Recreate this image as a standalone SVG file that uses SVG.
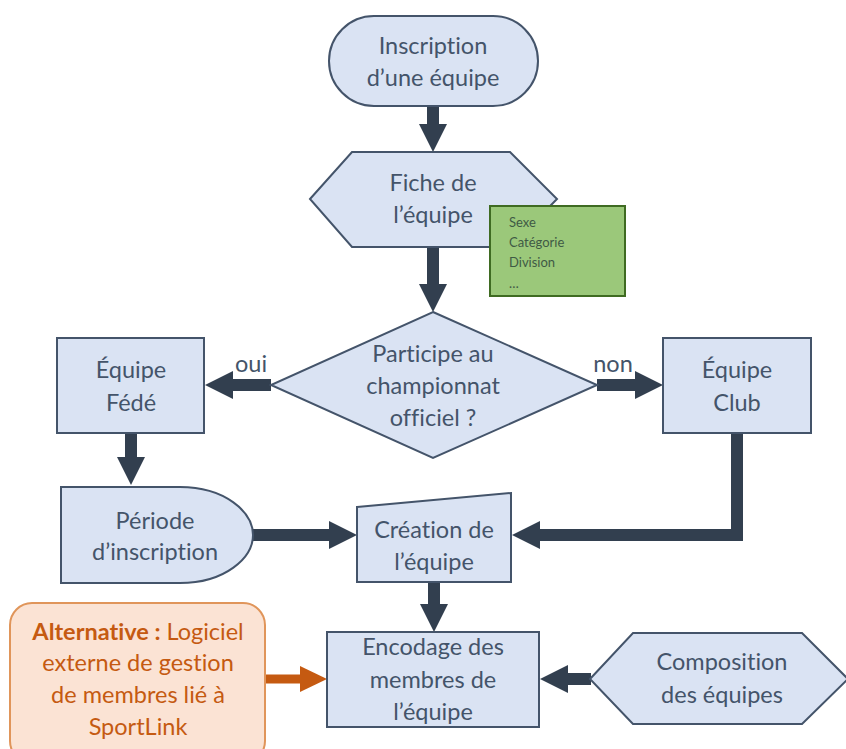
<svg xmlns="http://www.w3.org/2000/svg" width="846" height="749" viewBox="0 0 846 749">
<style>
text{font-variant-ligatures:none;font-feature-settings:"liga" 0}
.n{fill:#dae3f3;stroke:#44546a;stroke-width:2}
.t{font-family:Lato,"Liberation Sans",sans-serif;font-size:23.5px;fill:#44546a;text-anchor:middle}
.c{fill:none;stroke:#323f4f;stroke-width:12}
.co{fill:none;stroke:#c55a11;stroke-width:9}
.note{fill:#9bc87a;stroke:#3f6b22;stroke-width:2}
.nt{font-family:Lato,"Liberation Sans",sans-serif;font-size:13px;fill:#3f5a45}
.alt{fill:#fbe3d4;stroke:#e0955a;stroke-width:2}
.at{font-family:Lato,"Liberation Sans",sans-serif;font-size:23.5px;fill:#c55a11;text-anchor:middle}
</style>
<defs>
<marker id="ah" markerUnits="userSpaceOnUse" viewBox="0 0 28 28" refX="1" refY="14" markerWidth="28" markerHeight="28" orient="auto"><path d="M0,0 L28,14 L0,28 Z" fill="#323f4f"/></marker>
<marker id="aho" markerUnits="userSpaceOnUse" viewBox="0 0 27 26" refX="1" refY="13" markerWidth="27" markerHeight="26" orient="auto"><path d="M0,0 L27,13 L0,26 Z" fill="#c55a11"/></marker>
</defs>
<g id="connectors">
<path class="c" d="M433,106 V125" marker-end="url(#ah)"/>
<path class="c" d="M433,247 V285" marker-end="url(#ah)"/>
<path class="c" d="M271,385 H232" marker-end="url(#ah)"/>
<path class="c" d="M597,385 H636" marker-end="url(#ah)"/>
<path class="c" d="M131,434 V458" marker-end="url(#ah)"/>
<path class="c" d="M737,433 V535 H539" marker-end="url(#ah)"/>
<path class="c" d="M252,535 H330" marker-end="url(#ah)"/>
<path class="c" d="M434,583 V605" marker-end="url(#ah)"/>
<path class="c" d="M591,679 H567" marker-end="url(#ah)"/>
<path class="co" d="M264,679 H301" marker-end="url(#aho)"/>
<text class="t" x="251" y="372">oui</text>
<text class="t" x="613" y="372">non</text>
</g>
<g id="inscription">
<rect class="n" x="329" y="16" width="209" height="90" rx="45" ry="45"/>
<text class="t" x="433" y="54">Inscription</text>
<text class="t" x="433" y="86">d’une équipe</text>
</g>
<g id="fiche">
<polygon class="n" points="310,199 352,152 510,152 557,199 510,247 352,247"/>
<text class="t" x="433" y="191">Fiche de</text>
<text class="t" x="433" y="223">l’équipe</text>
</g>
<g id="note">
<rect class="note" x="490" y="206" width="135" height="90"/>
<text class="nt" x="509" y="227">Sexe</text>
<text class="nt" x="509" y="247">Catégorie</text>
<text class="nt" x="509" y="267">Division</text>
<text class="nt" x="509" y="288">…</text>
</g>
<g id="decision">
<polygon class="n" points="433,312 597,385 433,458 271,385"/>
<text class="t" x="433" y="362">Participe au</text>
<text class="t" x="433" y="394">championnat</text>
<text class="t" x="433" y="426">officiel ?</text>
</g>
<g id="fede">
<rect class="n" x="57" y="338" width="147" height="95"/>
<text class="t" x="131" y="378">Équipe</text>
<text class="t" x="131" y="411">Fédé</text>
</g>
<g id="club">
<rect class="n" x="663" y="338" width="148" height="95"/>
<text class="t" x="737" y="378">Équipe</text>
<text class="t" x="737" y="411">Club</text>
</g>
<g id="periode">
<path class="n" d="M61,487 H180 C225,487 253,512 253,535 C253,558 225,583 180,583 H61 Z"/>
<text class="t" x="155" y="529">Période</text>
<text class="t" x="155" y="560">d’inscription</text>
</g>
<g id="creation">
<polygon class="n" points="357,507 511,493 511,582 357,582"/>
<text class="t" x="434" y="538">Création de</text>
<text class="t" x="434" y="570">l’équipe</text>
</g>
<g id="encodage">
<rect class="n" x="327" y="632" width="212" height="95"/>
<text class="t" x="433" y="655">Encodage des</text>
<text class="t" x="433" y="688">membres de</text>
<text class="t" x="433" y="720">l’équipe</text>
</g>
<g id="composition">
<polygon class="n" points="590,679 633,633 802,633 848,679 802,724 633,724"/>
<text class="t" x="722" y="670">Composition</text>
<text class="t" x="722" y="703">des équipes</text>
</g>
<g id="alternative">
<rect class="alt" x="10" y="603" width="255" height="160" rx="22" ry="22"/>
<text class="at" x="138" y="640"><tspan font-weight="bold">Alternative :</tspan> Logiciel</text>
<text class="at" x="138" y="671">externe de gestion</text>
<text class="at" x="138" y="703">de membres lié à</text>
<text class="at" x="138" y="735">SportLink</text>
</g>
</svg>
